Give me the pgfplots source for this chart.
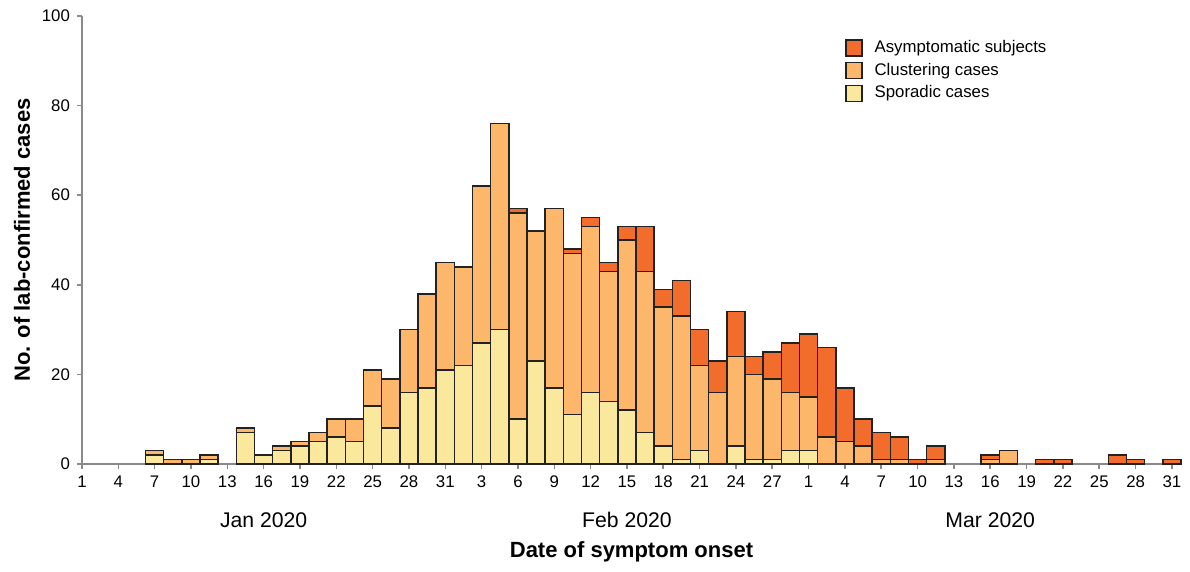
\documentclass[border=0pt]{standalone}
\usepackage{fontspec}
\setmainfont{Liberation Sans}[BoldFont={Liberation Sans Bold}]
\usepackage{pgfplots}
\pgfplotsset{compat=1.18}
\usepackage{pgfplotstable}

\definecolor{spor}{HTML}{FAE89C}
\definecolor{clus}{HTML}{FDB76A}
\definecolor{asym}{HTML}{F26D2C}
\definecolor{edge}{HTML}{222222}
\definecolor{axgray}{HTML}{8A8A8A}

% one bar every 1.5 days, x = day counted from 1 Jan 2020
% s = sporadic, c = clustering, a = asymptomatic
\pgfplotstableread{
x    s  c  a
7    2  1  0
8.5  0  1  0
10   0  1  0
11.5 1  1  0
14.5 7  1  0
16   2  0  0
17.5 3  1  0
19   4  1  0
20.5 5  2  0
22   6  4  0
23.5 5  5  0
25   13 8  0
26.5 8  11 0
28   16 14 0
29.5 17 21 0
31   21 24 0
32.5 22 22 0
34   27 35 0
35.5 30 46 0
37   10 46 1
38.5 23 29 0
40   17 40 0
41.5 11 36 1
43   16 37 2
44.5 14 29 2
46   12 38 3
47.5 7  36 10
49   4  31 4
50.5 1  32 8
52   3  19 8
53.5 0  16 7
55   4  20 10
56.5 1  19 4
58   1  18 6
59.5 3  13 11
61   3  12 14
62.5 0  6  20
64   0  5  12
65.5 0  4  6
67   0  1  6
68.5 0  1  5
70   0  0  1
71.5 0  1  3
76   0  1  1
77.5 0  3  0
80.5 0  0  1
82   0  0  1
86.5 0  0  2
88   0  0  1
91   0  0  1
}\onset

\begin{document}
\begin{tikzpicture}
\useasboundingbox (-41pt,-54pt) rectangle (554pt,232pt);
\begin{axis}[
    at={(0,0)}, anchor=south west,
    scale only axis,
    width=549.5pt, height=224pt,
    ybar stacked,
    bar width=1.5,
    xmin=1, xmax=91.75,
    ymin=0, ymax=100,
    clip=false,
    axis x line*=bottom,
    axis y line*=left,
    axis line style={axgray, line width=0.8pt},
    tick align=outside,
    major tick length=2.5pt,
    tick style={axgray, line width=0.8pt},
    xtick={1,4,...,91},
    xticklabels={1,4,7,10,13,16,19,22,25,28,31,3,6,9,12,15,18,21,24,27,1,4,7,10,13,16,19,22,25,28,31},
    ytick={0,20,...,100},
    /pgf/number format/assume math mode=true,
    tick label style={font=\fontsize{8.4}{10}\selectfont, black},
    xlabel={Date of symptom onset},
    ylabel={No. of lab-confirmed cases},
    every axis x label/.style={at={(rel axis cs:0.5,-0.1964)}, anchor=center,
        font=\fontsize{11}{13}\selectfont\bfseries},
    every axis y label/.style={at={(rel axis cs:-0.0546,0.5)}, rotate=90, anchor=center,
        font=\fontsize{11}{13}\selectfont\bfseries},
    reverse legend,
    legend style={at={(rel axis cs:0.694,0.949)}, anchor=north west,
        draw=none, fill=none, inner sep=0pt,
        font=\fontsize{8.4}{10}\selectfont,
        row sep=2.6pt, column sep=0pt,
        nodes={inner sep=0pt, anchor=west}},
    legend cell align=left,
    every axis plot/.append style={draw=edge, line width=0.75pt,
        legend image code/.code={\draw[##1, line width=0.75pt] (0pt,-4pt) rectangle (8pt,4pt); \path (14pt,0pt);}},
]
\addplot[fill=spor] table[x=x, y=s] {\onset};
\addlegendentry{Sporadic cases}
\addplot[fill=clus] table[x=x, y=c] {\onset};
\addlegendentry{Clustering cases}
\addplot[fill=asym] table[x=x, y=a] {\onset};
\addlegendentry{Asymptomatic subjects}

\node[font=\fontsize{10.6}{12}\selectfont] at ([yshift=-28pt]axis cs:16,0) {Jan 2020};
\node[font=\fontsize{10.6}{12}\selectfont] at ([yshift=-28pt]axis cs:46,0) {Feb 2020};
\node[font=\fontsize{10.6}{12}\selectfont] at ([yshift=-28pt]axis cs:76,0) {Mar 2020};
\end{axis}
\end{tikzpicture}
\end{document}
